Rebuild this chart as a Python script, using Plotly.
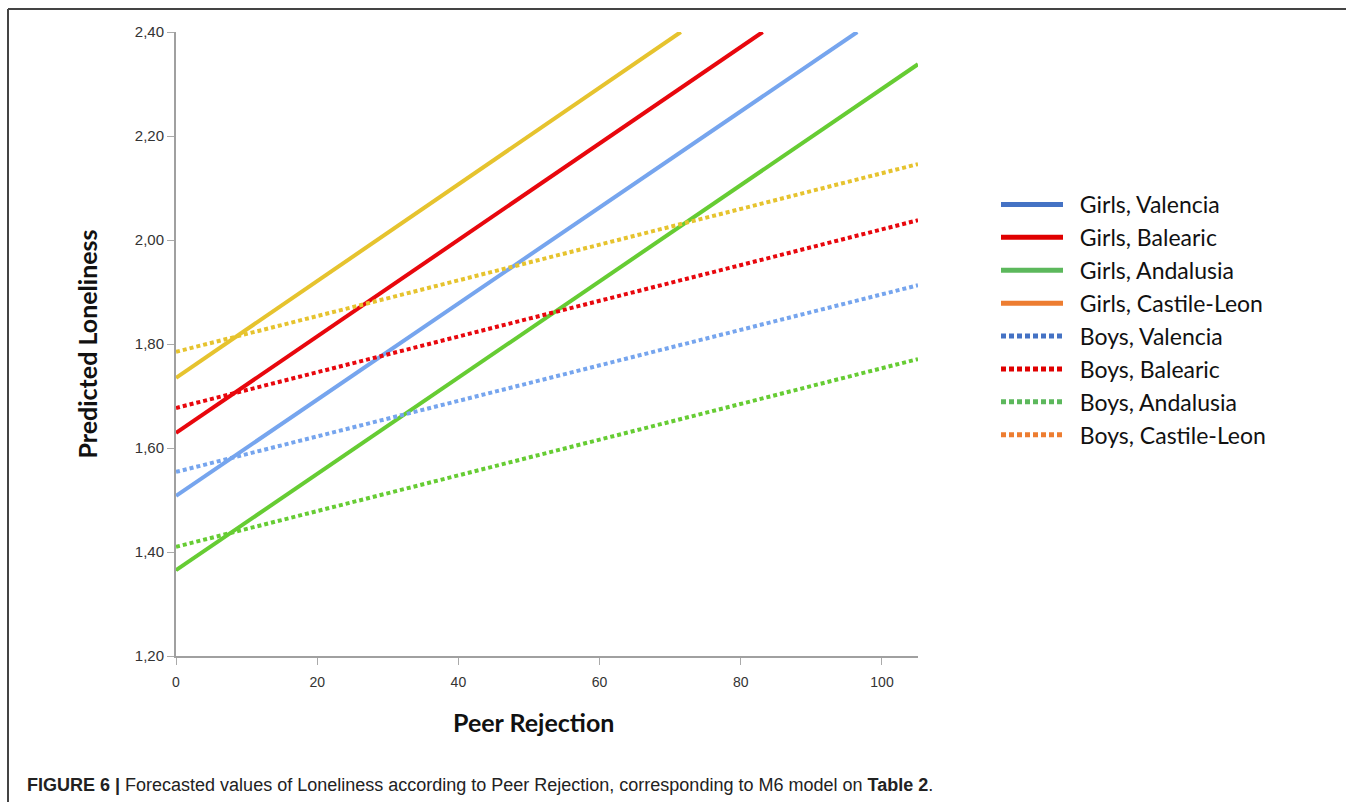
import plotly.graph_objects as go

# ---- data ----
series_names = ["Girls, Valencia", "Girls, Balearic", "Girls, Andalusia", "Girls, Castile-Leon",
                "Boys, Valencia", "Boys, Balearic", "Boys, Andalusia", "Boys, Castile-Leon"]
x_start = [0, 0, 0, 0, 0, 0, 0, 0]
x_end = [96.5, 83.1, 105.1, 71.5, 105.1, 105.1, 105.1, 105.1]
y_start = [1.508, 1.629, 1.365, 1.735, 1.554, 1.677, 1.410, 1.785]
y_end = [2.400, 2.400, 2.338, 2.400, 1.913, 2.038, 1.771, 2.146]
line_colors = ["#76A5EE", "#E8070D", "#66CC33", "#E6C32E",
               "#76A5EE", "#E8070D", "#66CC33", "#E6C32E"]
legend_colors = ["#4472C4", "#E00000", "#5CB85C", "#ED7D31",
                 "#4472C4", "#E00000", "#5CB85C", "#ED7D31"]
is_dotted = [False, False, False, False, True, True, True, True]

y_ticks = [1.20, 1.40, 1.60, 1.80, 2.00, 2.20, 2.40]
x_ticks = [0, 20, 40, 60, 80, 100]

W, H = 1355, 802
L, R, T, B = 176, 918, 32, 656

def px(x):
    return (x - L) / (R - L)

def py(y):
    return (B - y) / (B - T)

fig = go.Figure()
for i, name in enumerate(series_names):
    dash = "4px,3px" if is_dotted[i] else "solid"
    fig.add_trace(go.Scatter(
        x=[x_start[i], x_end[i]], y=[y_start[i], y_end[i]], mode="lines",
        line=dict(color=line_colors[i], width=4, dash=dash),
        showlegend=False, hoverinfo="skip", cliponaxis=True))
for i, name in enumerate(series_names):
    dash = "5px,3px" if is_dotted[i] else "solid"
    fig.add_trace(go.Scatter(
        x=[None], y=[None], mode="lines", name="\u00a0\u00a0" + name,
        line=dict(color=legend_colors[i], width=5, dash=dash)))

fig.update_layout(
    width=W, height=H,
    margin=dict(l=L, r=W - R, t=T, b=H - B, pad=0),
    paper_bgcolor="white", plot_bgcolor="white",
    separators=",.",
    font=dict(family="Liberation Sans, Arial, sans-serif", color="#222222", size=14),
    showlegend=True,
    legend=dict(x=px(996), y=py(183), xanchor="left", yanchor="top",
                font=dict(family="Lato, Open Sans, sans-serif", size=23, color="#111111"),
                itemwidth=62, tracegroupgap=0, bgcolor="rgba(0,0,0,0)"),
    xaxis=dict(range=[0, 105.1], tickvals=x_ticks, ticks="outside", ticklen=7,
               tickcolor="#aaaaaa", tickwidth=1, showline=True, linecolor="#a0a0a0",
               linewidth=2, showgrid=False, zeroline=False, ticklabelstandoff=5,
               tickfont=dict(size=14, color="#333333")),
    yaxis=dict(range=[1.20, 2.40], tickvals=y_ticks, tickformat=".2f", ticks="outside",
               ticklen=7, tickcolor="#aaaaaa", tickwidth=1, showline=True,
               linecolor="#a0a0a0", linewidth=2, showgrid=False, zeroline=False,
               tickfont=dict(size=15, color="#333333"),
               title=dict(text="<b>Predicted Loneliness</b>",
                          font=dict(family="Lato, Open Sans, sans-serif", size=25, color="#111111"),
                          standoff=30)),
)

# x-axis title (placed slightly left of plot centre, as in the original)
fig.add_annotation(xref="paper", yref="paper", x=px(533), y=py(722), xanchor="center", yanchor="middle",
                   showarrow=False, text="<b>Peer Rejection</b>",
                   font=dict(family="Lato, Open Sans, sans-serif", size=25, color="#111111"))

# frame lines of the figure panel
fig.add_shape(type="line", xref="paper", yref="paper", x0=px(8), x1=px(1346), y0=py(9), y1=py(9),
              line=dict(color="#444444", width=2))
fig.add_shape(type="line", xref="paper", yref="paper", x0=px(8), x1=px(8), y0=py(9), y1=py(803),
              line=dict(color="#444444", width=2))

fig.add_annotation(xref="paper", yref="paper", x=px(25), y=py(785), xanchor="left", yanchor="middle",
                   showarrow=False,
                   text="<b>FIGURE 6 |</b> Forecasted values of Loneliness according to Peer Rejection, corresponding to M6 model on <b>Table 2</b>.",
                   font=dict(family="Liberation Sans Narrow, Arial Narrow, Liberation Sans, sans-serif",
                             size=18, color="#222222"))

fig.write_html("out.html", config={"displayModeBar": False},
               post_script="document.body.style.margin='0';document.body.style.overflow='hidden';")
